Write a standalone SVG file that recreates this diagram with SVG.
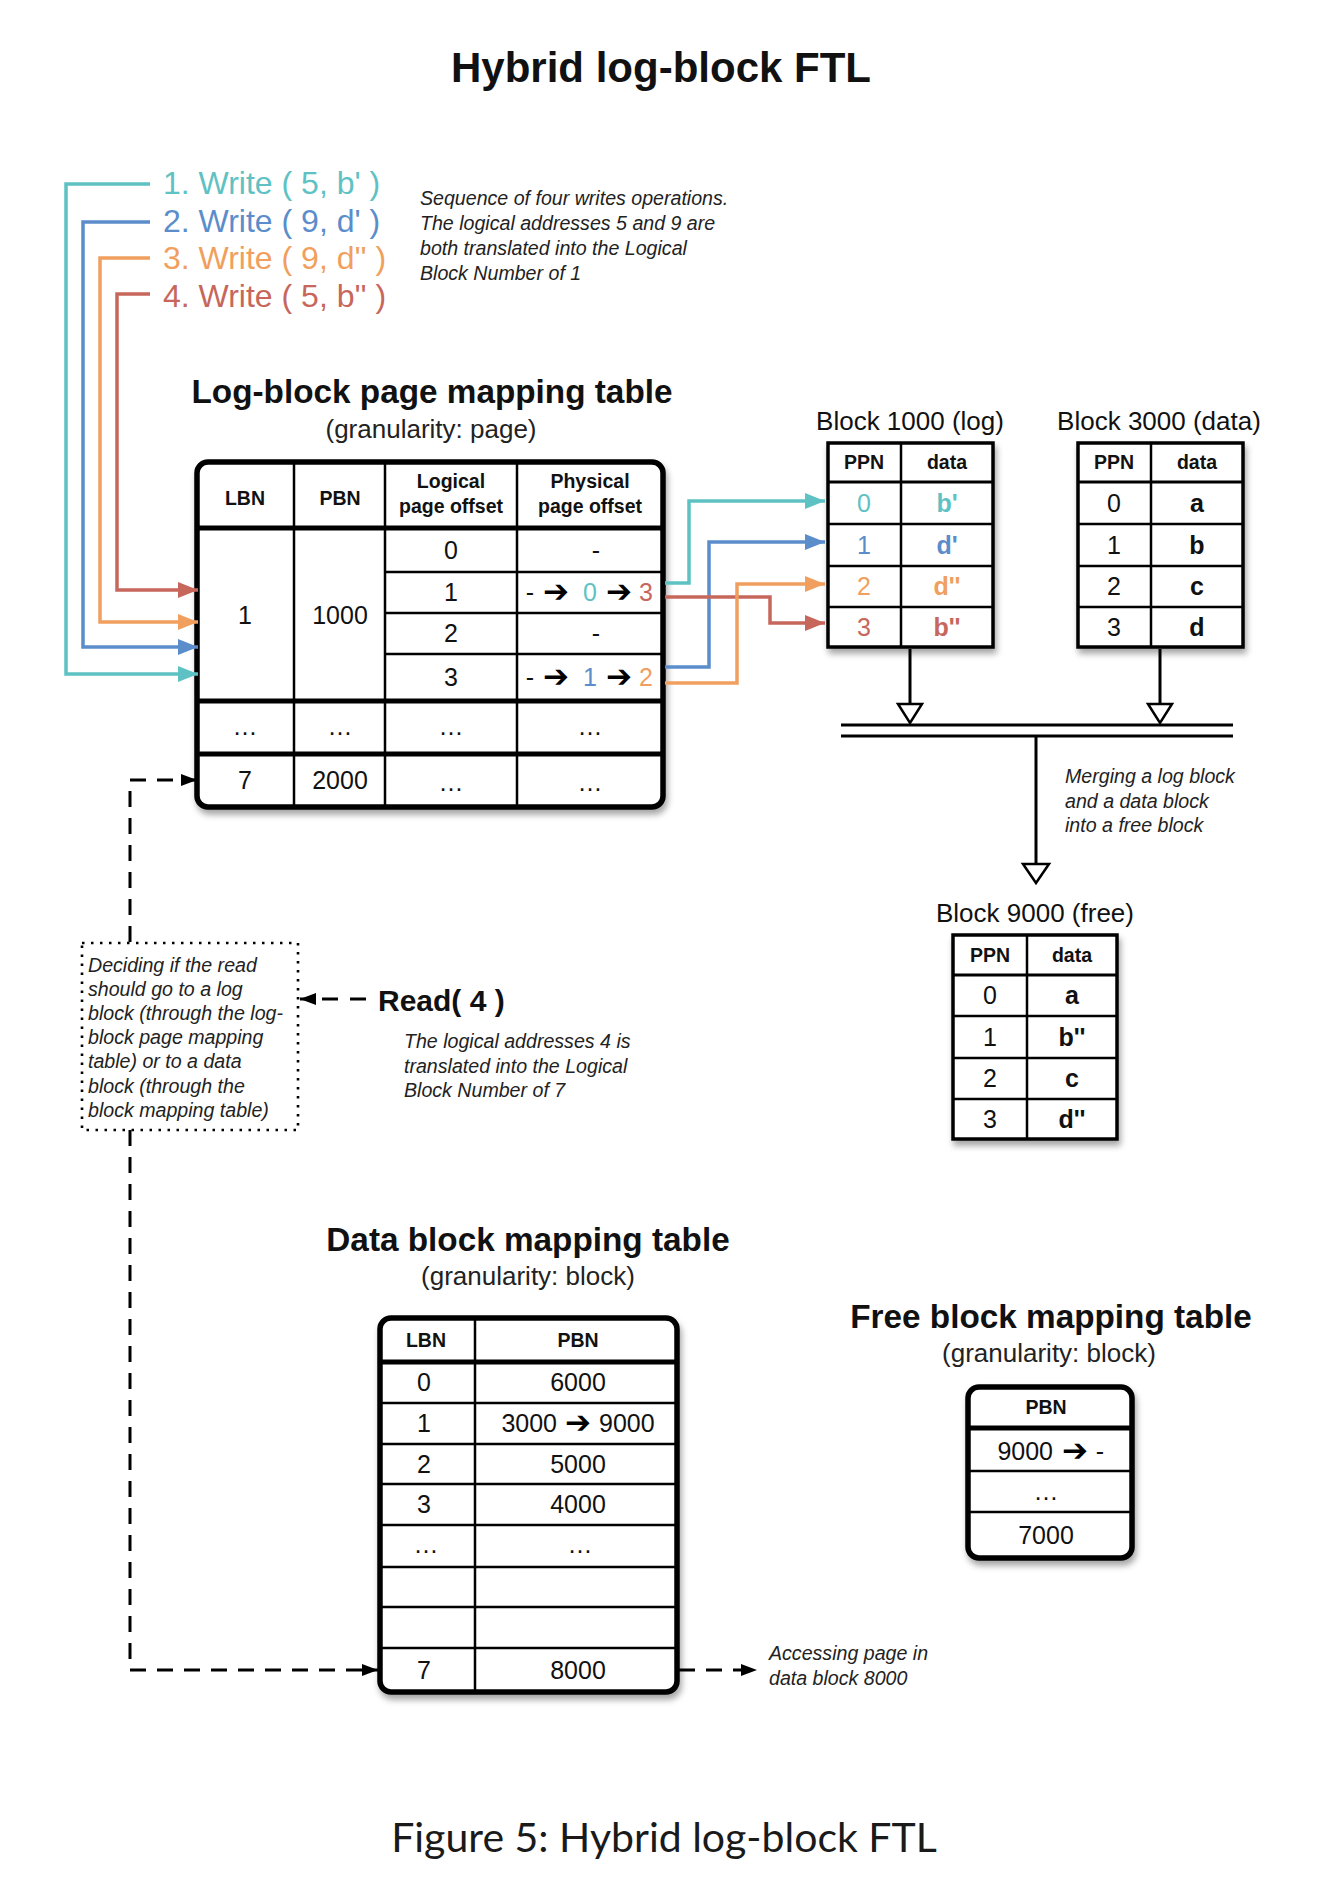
<svg xmlns="http://www.w3.org/2000/svg" width="1324" height="1884" viewBox="0 0 1324 1884">
<defs>
<style>
text{font-family:"Liberation Sans",Arial,Helvetica,sans-serif;fill:#111}
.b{font-weight:bold}
.i{font-style:italic;font-size:19.6px;fill:#222}
.m{text-anchor:middle}
.h1{font-size:42px;font-weight:bold}
.h2{font-size:33.3px;font-weight:bold}
.sub{font-size:26px;fill:#222;text-anchor:middle}
.hd{font-size:19.5px;font-weight:bold;text-anchor:middle}
.v{font-size:25px;text-anchor:middle}
.vb{font-size:25px;font-weight:bold;text-anchor:middle}
.ar{font-family:"DejaVu Sans",sans-serif;font-size:31px;fill:#000}
.wr{font-size:32px}
.frame{fill:#fff;stroke:#000;stroke-width:5.5}
.sq{fill:#fff;stroke:#000;stroke-width:3.5}
.thin{stroke:#000;stroke-width:2.5}
.thick{stroke:#000;stroke-width:5}
.mid3{stroke:#000;stroke-width:3}
.dash{fill:none;stroke:#000;stroke-width:3;stroke-dasharray:16 11}
.c1{fill:#5EC2C4}.c2{fill:#5B8DCB}.c3{fill:#F09F5E}.c4{fill:#C7675C}
.tri{fill:#fff;stroke:#000;stroke-width:2.5}
</style>
<filter id="sh" x="-15%" y="-15%" width="130%" height="135%">
<feDropShadow dx="2" dy="5" stdDeviation="3" flood-color="#000" flood-opacity="0.35"/>
</filter>
<marker id="mk" viewBox="0 0 16 12" refX="16" refY="6" markerWidth="16" markerHeight="12" markerUnits="userSpaceOnUse" orient="auto"><path d="M0,0 L16,6 L0,12 z" fill="#000"/></marker>
<marker id="m1" viewBox="0 0 20 16" refX="20" refY="8" markerWidth="20" markerHeight="16" markerUnits="userSpaceOnUse" orient="auto"><path d="M0,0 L20,8 L0,16 z" fill="#5EC2C4"/></marker>
<marker id="m2" viewBox="0 0 20 16" refX="20" refY="8" markerWidth="20" markerHeight="16" markerUnits="userSpaceOnUse" orient="auto"><path d="M0,0 L20,8 L0,16 z" fill="#5B8DCB"/></marker>
<marker id="m3" viewBox="0 0 20 16" refX="20" refY="8" markerWidth="20" markerHeight="16" markerUnits="userSpaceOnUse" orient="auto"><path d="M0,0 L20,8 L0,16 z" fill="#F09F5E"/></marker>
<marker id="m4" viewBox="0 0 20 16" refX="20" refY="8" markerWidth="20" markerHeight="16" markerUnits="userSpaceOnUse" orient="auto"><path d="M0,0 L20,8 L0,16 z" fill="#C7675C"/></marker>
</defs>
<rect width="1324" height="1884" fill="#fff"/>

<text class="h1 m" x="661" y="82">Hybrid log-block FTL</text>

<g id="writes">
<text class="wr c1" x="163" y="194">1. Write ( 5, b' )</text>
<text class="wr c2" x="163" y="232">2. Write ( 9, d' )</text>
<text class="wr c3" x="163" y="269">3. Write ( 9, d'' )</text>
<text class="wr c4" x="163" y="307">4. Write ( 5, b'' )</text>
</g>
<g id="writes-note">
<text class="i" x="420" y="205">Sequence of four writes operations.</text>
<text class="i" x="420" y="230">The logical addresses 5 and 9 are</text>
<text class="i" x="420" y="255">both translated into the Logical</text>
<text class="i" x="420" y="280">Block Number of 1</text>
</g>

<g id="log-table">
<text class="h2 m" x="432" y="403">Log-block page mapping table</text>
<text class="sub" x="431" y="438">(granularity: page)</text>
<rect class="frame" x="197" y="462" width="466" height="345" rx="11" filter="url(#sh)"/>
<line class="thin" x1="294" y1="462" x2="294" y2="807"/>
<line class="thin" x1="385" y1="462" x2="385" y2="807"/>
<line class="thin" x1="517" y1="462" x2="517" y2="807"/>
<line class="thick" x1="197" y1="528" x2="663" y2="528"/>
<line class="thin" x1="385" y1="572" x2="663" y2="572"/>
<line class="thin" x1="385" y1="613" x2="663" y2="613"/>
<line class="thin" x1="385" y1="654" x2="663" y2="654"/>
<line class="thick" x1="197" y1="701" x2="663" y2="701"/>
<line class="thick" x1="197" y1="754" x2="663" y2="754"/>
<text class="hd" x="245" y="505">LBN</text>
<text class="hd" x="340" y="505">PBN</text>
<text class="hd" x="451" y="488">Logical</text>
<text class="hd" x="451" y="513">page offset</text>
<text class="hd" x="590" y="488">Physical</text>
<text class="hd" x="590" y="513">page offset</text>
<text class="v" x="245" y="624">1</text>
<text class="v" x="340" y="624">1000</text>
<text class="v" x="451" y="559">0</text>
<text class="v" x="451" y="601">1</text>
<text class="v" x="451" y="642">2</text>
<text class="v" x="451" y="686">3</text>
<text class="v" x="596" y="559">-</text>
<text class="v" x="596" y="642">-</text>
<text class="v" x="530" y="601">-</text>
<text class="ar m" x="556" y="602">➔</text>
<text class="v c1" x="590" y="601">0</text>
<text class="ar m" x="619" y="602">➔</text>
<text class="v c4" x="646" y="601">3</text>
<text class="v" x="530" y="686">-</text>
<text class="ar m" x="556" y="687">➔</text>
<text class="v c2" x="590" y="686">1</text>
<text class="ar m" x="619" y="687">➔</text>
<text class="v c3" x="646" y="686">2</text>
<text class="v" x="245" y="735">…</text>
<text class="v" x="340" y="735">…</text>
<text class="v" x="451" y="735">…</text>
<text class="v" x="590" y="735">…</text>
<text class="v" x="245" y="789">7</text>
<text class="v" x="340" y="789">2000</text>
<text class="v" x="451" y="791">…</text>
<text class="v" x="590" y="791">…</text>
</g>

<g id="block1000">
<text class="sub" x="910" y="430" style="fill:#111">Block 1000 (log)</text>
<rect class="sq" x="828" y="443" width="165" height="204" filter="url(#sh)"/>
<line class="thin" x1="901" y1="443" x2="901" y2="647"/>
<line class="mid3" x1="828" y1="482" x2="993" y2="482"/>
<line class="thin" x1="828" y1="524" x2="993" y2="524"/>
<line class="thin" x1="828" y1="566" x2="993" y2="566"/>
<line class="thin" x1="828" y1="607" x2="993" y2="607"/>
<text class="hd" x="864" y="469">PPN</text>
<text class="hd" x="947" y="469">data</text>
<text class="v c1" x="864" y="512">0</text><text class="vb c1" x="947" y="512">b'</text>
<text class="v c2" x="864" y="554">1</text><text class="vb c2" x="947" y="554">d'</text>
<text class="v c3" x="864" y="595">2</text><text class="vb c3" x="947" y="595">d''</text>
<text class="v c4" x="864" y="636">3</text><text class="vb c4" x="947" y="636">b''</text>
</g>

<g id="block3000">
<text class="sub" x="1159" y="430" style="fill:#111">Block 3000 (data)</text>
<rect class="sq" x="1078" y="443" width="165" height="204" filter="url(#sh)"/>
<line class="thin" x1="1151" y1="443" x2="1151" y2="647"/>
<line class="mid3" x1="1078" y1="482" x2="1243" y2="482"/>
<line class="thin" x1="1078" y1="524" x2="1243" y2="524"/>
<line class="thin" x1="1078" y1="566" x2="1243" y2="566"/>
<line class="thin" x1="1078" y1="607" x2="1243" y2="607"/>
<text class="hd" x="1114" y="469">PPN</text>
<text class="hd" x="1197" y="469">data</text>
<text class="v" x="1114" y="512">0</text><text class="vb" x="1197" y="512">a</text>
<text class="v" x="1114" y="554">1</text><text class="vb" x="1197" y="554">b</text>
<text class="v" x="1114" y="595">2</text><text class="vb" x="1197" y="595">c</text>
<text class="v" x="1114" y="636">3</text><text class="vb" x="1197" y="636">d</text>
</g>

<g id="block9000">
<text class="sub" x="1035" y="922" style="fill:#111">Block 9000 (free)</text>
<rect class="sq" x="953" y="935" width="164" height="204" filter="url(#sh)"/>
<line class="thin" x1="1027" y1="935" x2="1027" y2="1139"/>
<line class="mid3" x1="953" y1="975" x2="1117" y2="975"/>
<line class="thin" x1="953" y1="1016" x2="1117" y2="1016"/>
<line class="thin" x1="953" y1="1058" x2="1117" y2="1058"/>
<line class="thin" x1="953" y1="1099" x2="1117" y2="1099"/>
<text class="hd" x="990" y="962">PPN</text>
<text class="hd" x="1072" y="962">data</text>
<text class="v" x="990" y="1004">0</text><text class="vb" x="1072" y="1004">a</text>
<text class="v" x="990" y="1046">1</text><text class="vb" x="1072" y="1046">b''</text>
<text class="v" x="990" y="1087">2</text><text class="vb" x="1072" y="1087">c</text>
<text class="v" x="990" y="1128">3</text><text class="vb" x="1072" y="1128">d''</text>
</g>

<g id="merge-note">
<text class="i" x="1065" y="783">Merging a log block</text>
<text class="i" x="1065" y="808">and a data block</text>
<text class="i" x="1065" y="832">into a free block</text>
</g>

<g id="decide-box">
<rect x="82" y="943" width="216" height="187" fill="none" stroke="#000" stroke-width="2.6" stroke-dasharray="2.5 6.5"/>
<text class="i" x="88" y="972">Deciding if the read</text>
<text class="i" x="88" y="996">should go to a log</text>
<text class="i" x="88" y="1020">block (through the log-</text>
<text class="i" x="88" y="1044">block page mapping</text>
<text class="i" x="88" y="1068">table) or to a data</text>
<text class="i" x="88" y="1093">block (through the</text>
<text class="i" x="88" y="1117">block mapping table)</text>
</g>

<g id="read">
<text class="b" x="378" y="1011" style="font-size:30px">Read( 4 )</text>
<text class="i" x="404" y="1048">The logical addresses 4 is</text>
<text class="i" x="404" y="1073">translated into the Logical</text>
<text class="i" x="404" y="1097">Block Number of 7</text>
</g>

<g id="data-table">
<text class="h2 m" x="528" y="1251">Data block mapping table</text>
<text class="sub" x="528" y="1285">(granularity: block)</text>
<rect class="frame" x="380" y="1318" width="297" height="374" rx="11" filter="url(#sh)"/>
<line class="thin" x1="475" y1="1318" x2="475" y2="1692"/>
<line class="thick" x1="380" y1="1362" x2="677" y2="1362"/>
<line class="thin" x1="380" y1="1403" x2="677" y2="1403"/>
<line class="thin" x1="380" y1="1444" x2="677" y2="1444"/>
<line class="thin" x1="380" y1="1484" x2="677" y2="1484"/>
<line class="thin" x1="380" y1="1525" x2="677" y2="1525"/>
<line class="thin" x1="380" y1="1567" x2="677" y2="1567"/>
<line class="thin" x1="380" y1="1607" x2="677" y2="1607"/>
<line class="thin" x1="380" y1="1648" x2="677" y2="1648"/>
<text class="hd" x="426" y="1347">LBN</text>
<text class="hd" x="578" y="1347">PBN</text>
<text class="v" x="424" y="1391">0</text><text class="v" x="578" y="1391">6000</text>
<text class="v" x="424" y="1432">1</text>
<text class="v" x="557" y="1432" style="text-anchor:end">3000</text>
<text class="ar m" x="578" y="1433">➔</text>
<text class="v" x="599" y="1432" style="text-anchor:start">9000</text>
<text class="v" x="424" y="1473">2</text><text class="v" x="578" y="1473">5000</text>
<text class="v" x="424" y="1513">3</text><text class="v" x="578" y="1513">4000</text>
<text class="v" x="426" y="1553">…</text><text class="v" x="580" y="1553">…</text>
<text class="v" x="424" y="1679">7</text><text class="v" x="578" y="1679">8000</text>
</g>

<g id="free-table">
<text class="h2 m" x="1051" y="1328">Free block mapping table</text>
<text class="sub" x="1049" y="1362">(granularity: block)</text>
<rect class="frame" x="968" y="1387" width="164" height="171" rx="11" filter="url(#sh)"/>
<line class="thick" x1="968" y1="1428" x2="1132" y2="1428"/>
<line class="thin" x1="968" y1="1471" x2="1132" y2="1471"/>
<line class="thin" x1="968" y1="1512" x2="1132" y2="1512"/>
<text class="hd" x="1046" y="1414">PBN</text>
<text class="v" x="1053" y="1460" style="text-anchor:end">9000</text>
<text class="ar m" x="1075" y="1461">➔</text>
<text class="v" x="1100" y="1460">-</text>
<text class="v" x="1046" y="1500">…</text>
<text class="v" x="1046" y="1544">7000</text>
</g>

<g id="access-note">
<text class="i" x="769" y="1660">Accessing page in</text>
<text class="i" x="769" y="1685">data block 8000</text>
</g>

<g id="connectors">
<path d="M150 184 H66 V674 H198" fill="none" stroke="#5EC2C4" stroke-width="3.5" marker-end="url(#m1)"/>
<path d="M150 222 H83 V647 H198" fill="none" stroke="#5B8DCB" stroke-width="3.5" marker-end="url(#m2)"/>
<path d="M150 258 H100 V622 H198" fill="none" stroke="#F09F5E" stroke-width="3.5" marker-end="url(#m3)"/>
<path d="M150 294 H117 V590 H198" fill="none" stroke="#C7675C" stroke-width="3.5" marker-end="url(#m4)"/>
<path d="M665 583 H689 V501 H825" fill="none" stroke="#5EC2C4" stroke-width="3.5" marker-end="url(#m1)"/>
<path d="M665 667 H709 V542 H825" fill="none" stroke="#5B8DCB" stroke-width="3.5" marker-end="url(#m2)"/>
<path d="M665 597 H770 V623 H825" fill="none" stroke="#C7675C" stroke-width="3.5" marker-end="url(#m4)"/>
<path d="M665 683 H737 V584 H825" fill="none" stroke="#F09F5E" stroke-width="3.5" marker-end="url(#m3)"/>
<line class="mid3" x1="910" y1="649" x2="910" y2="704"/>
<polygon class="tri" points="898,704 922,704 910,723"/>
<line class="mid3" x1="1160" y1="649" x2="1160" y2="704"/>
<polygon class="tri" points="1148,704 1172,704 1160,723"/>
<line class="mid3" x1="841" y1="725" x2="1233" y2="725"/>
<line class="mid3" x1="841" y1="736" x2="1233" y2="736"/>
<line class="mid3" x1="1036" y1="736" x2="1036" y2="864"/>
<polygon class="tri" points="1023,864 1049,864 1036,883"/>
<path class="dash" d="M130 942 V780 H197" marker-end="url(#mk)"/>
<path class="dash" d="M130 1130 V1670 H378" marker-end="url(#mk)"/>
<path class="dash" d="M366 999 H300" style="stroke-dasharray:16 12" marker-end="url(#mk)"/>
<path class="dash" d="M679 1670 H757" marker-end="url(#mk)"/>
</g>

<text x="664" y="1852" style="font-family:Lato,'Liberation Sans',sans-serif;font-size:41px;fill:#1a1a1a;text-anchor:middle">Figure 5: Hybrid log-block FTL</text>
</svg>
